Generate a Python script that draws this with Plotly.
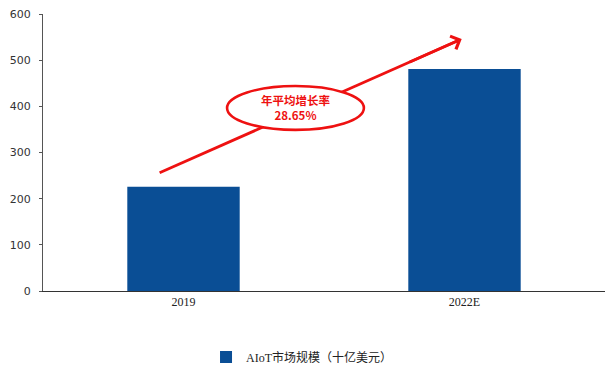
import plotly.graph_objects as go

# Market size data (billion USD)
categories = ["2019", "2022E"]
market_size = [226, 481]
series_name = "AIoT市场规模（十亿美元）"
cagr_label = "年平均增长率<br>28.65%"
y_ticks = [0, 100, 200, 300, 400, 500, 600]

bar_color = "#0A4E95"
red = "#EE1111"

# Growth arrow endpoints (category position, value)
arrow_start = (-0.085, 256)
arrow_end = (0.99, 546)

fig = go.Figure()
fig.add_trace(go.Bar(
    x=categories, y=market_size, name=series_name,
    marker=dict(color=bar_color, line=dict(width=0)),
    showlegend=True,
))

# Arrow shaft, drawn first so the ellipse sits on top of it
fig.add_shape(
    type="line", xref="x", yref="y",
    x0=arrow_start[0], y0=arrow_start[1], x1=arrow_end[0] - 0.01, y1=arrow_end[1] - 3,
    line=dict(color=red, width=2.8), layer="above",
)

# Ellipse with the growth-rate label
fig.add_shape(
    type="circle", xref="x", yref="y",
    x0=0.155, x1=0.642, y0=349, y1=444,
    line=dict(color=red, width=2.6), fillcolor="white", layer="above",
)

# Arrow head near the top right
fig.add_annotation(
    x=arrow_end[0], y=arrow_end[1], ax=0.8, ay=arrow_end[1] - (arrow_end[1] - arrow_start[1]) * 0.19 / 1.075,
    xref="x", yref="y", axref="x", ayref="y",
    text="", showarrow=True, arrowhead=4, arrowsize=1.0,
    arrowwidth=2.8, arrowcolor=red,
)

fig.add_annotation(
    x=0.3985, y=397, xref="x", yref="y",
    text="<b>" + cagr_label + "</b>", showarrow=False,
    font=dict(family="Noto Sans CJK SC", size=11.5, color=red),
    align="center",
)

fig.update_layout(
    width=606, height=367,
    margin=dict(l=43, r=1, t=14, b=76),
    paper_bgcolor="white", plot_bgcolor="white",
    bargap=0.6,
    font=dict(family="Liberation Serif", size=12, color="#222222"),
    legend=dict(
        orientation="h", x=0.46, xanchor="center",
        yref="container", y=0.027, yanchor="middle",
        font=dict(family="Liberation Serif, Noto Sans CJK SC", size=12, color="#222222"),
        itemwidth=30,
    ),
    xaxis=dict(
        type="category", showline=True, linecolor="#333333", linewidth=1,
        ticks="", showgrid=False,
        tickfont=dict(family="Liberation Serif", size=12, color="#222222"),
    ),
    yaxis=dict(
        range=[0, 600], tickvals=y_ticks, showline=True, linecolor="#555555",
        linewidth=1, ticks="outside", ticklen=3, tickcolor="#555555",
        showgrid=False, zeroline=False, ticklabelstandoff=6,
        tickfont=dict(family="DejaVu Sans", size=11, color="#333333"),
    ),
)

fig.write_html("out.html")
